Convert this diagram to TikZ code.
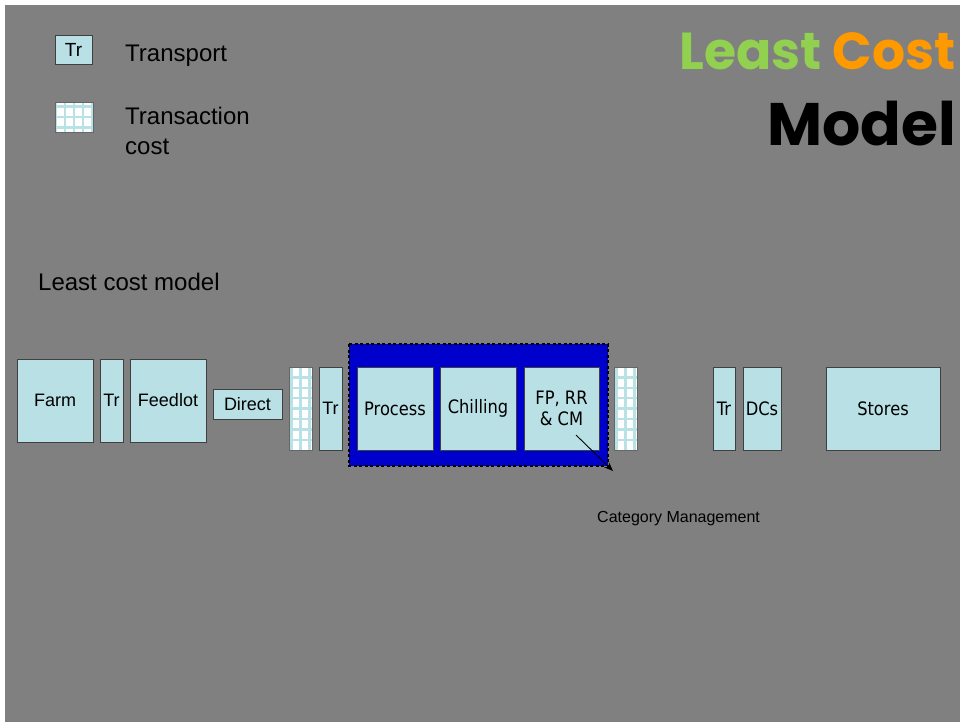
\documentclass[tikz,border=0pt]{standalone}
\usepackage{xcolor}
\usepackage{fontspec}
\usepackage{tikz}
\usetikzlibrary{arrows.meta, positioning, backgrounds}
\setmainfont{Liberation Sans}
\newfontfamily\tahoma[FakeStretch=0.88]{DejaVu Sans}
\newfontfamily\titlefont{Poppins}
\definecolor{slate}{RGB}{128,128,128}
\definecolor{stagefill}{RGB}{184,224,229}
\definecolor{gridline}{RGB}{184,226,230}
\definecolor{chainblue}{RGB}{0,0,204}
\definecolor{leastgreen}{RGB}{146,208,80}
\definecolor{costorange}{RGB}{255,153,0}

\begin{document}
\begin{tikzpicture}[
    x=1pt, y=-1pt,
    stage/.style={rectangle, draw=black!75, line width=0.9pt, outer sep=0pt, fill=stagefill, minimum width=#1, minimum height=83pt, inner sep=0pt, align=center, font=\fontsize{18}{20}\selectfont},
    stage/.default=76pt,
    tstage/.style={stage=#1, font=\tahoma\fontsize{18.5}{21}\selectfont},
    tstage/.default=76pt,
    costgrid/.style={rectangle, draw=black!60, line width=0.8pt, outer sep=0pt, fill=white, minimum width=#1, minimum height=83pt, inner sep=0pt,
        path picture={\draw[gridline, line width=2.4pt] (path picture bounding box.south west) grid[xstep=9pt, ystep=10.4pt] (path picture bounding box.north east);}},
    costgrid/.default=23pt,
    chainbox/.style={fill=chainblue, draw=black, line width=2.5pt, dash pattern=on 3pt off 2.5pt},
    keytext/.style={font=\fontsize{24}{30}\selectfont, anchor=west, inner sep=0pt, align=left},
    arrow/.style={-{Stealth[length=9pt, width=7pt]}, line width=0.9pt}
]
    \useasboundingbox (0,0) rectangle (960,722);

    \node[stage=37pt, minimum height=29pt, font=\fontsize{19}{20}\selectfont] (keytr) at (73.5,49.5) {Tr};
    \node[keytext] (keytrlabel) at (125,56) {Transport};
    \node[costgrid=38pt, minimum height=30pt] (keygrid) at (74,117) {};
    \node[keytext] (keygridlabel) at (125,131) {Transaction\\cost};

    \node[font=\titlefont\bfseries\fontsize{52}{56}\selectfont, anchor=base east, inner sep=0pt] (title) at (956,70) {\textcolor{leastgreen}{Least} \textcolor{costorange}{Cost}};
    \node[font=\titlefont\bfseries\fontsize{60}{64}\selectfont, anchor=base east, inner sep=0pt] (subtitle) at (956,146) {Model};

    \node[keytext] (heading) at (38,282) {Least cost model};

    \node[stage] (farm) at (55,400.5) {Farm};
    \node[stage=23pt, right=7pt of farm] (tr1) {Tr};
    \node[stage, right=7pt of tr1] (feedlot) {Feedlot};
    \node[stage=69pt, minimum height=30pt, right=7pt of feedlot, yshift=-3.5pt] (direct) {Direct};
    \node[costgrid, right=7pt of direct, yshift=-4.5pt] (grid1) {};
    \node[stage=23pt, right=7pt of grid1] (tr2) {Tr};
    \node[tstage, right=15pt of tr2] (process) {Process};
    \node[tstage, right=7pt of process] (chilling) {Chilling};
    \node[tstage=75pt, right=8pt of chilling] (fprr) {FP, RR\\\& CM};
    \node[costgrid, right=15pt of fprr] (grid2) {};
    \node[tstage=22pt, right=76pt of grid2] (tr3) {Tr};
    \node[tstage=38pt, right=8pt of tr3] (dcs) {DCs};
    \node[tstage=114pt, right=45pt of dcs] (stores) {Stores};

    \begin{scope}[on background layer]
        \fill[white] (0,0) rectangle (960,722);
        \fill[slate] (5,5) rectangle (960,722);
        \draw[chainbox] ([shift={(-8,-23)}]process.north west) rectangle ([shift={(9,16)}]fprr.south east);
    \end{scope}

    \coordinate (cmtip) at (613,471);
    \draw[arrow] ([shift={(14.5,26.5)}]fprr.center) -- (cmtip);
    \node[font=\fontsize{16}{18}\selectfont, anchor=west, inner sep=0pt] (cmlabel) at (597,519) {Category Management};
\end{tikzpicture}
\end{document}
